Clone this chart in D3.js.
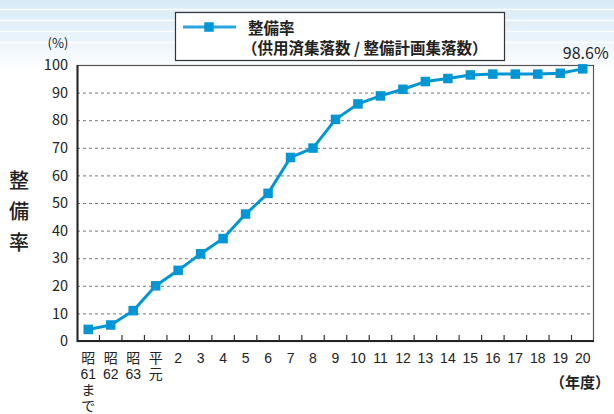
<!DOCTYPE html>
<html lang="ja">
<head>
<meta charset="utf-8">
<script src="https://cdn.jsdelivr.net/npm/d3@7"></script>
<style>
  html, body { margin: 0; padding: 0; background: #fff; }
  svg { display: block; font-family: "Noto Sans CJK JP", "Noto Sans", sans-serif; }
</style>
</head>
<body>
<svg id="chart" width="614" height="414"></svg>
<script>
// Fiscal years (each label split into stacked lines)
const categories = [
  ["昭", "61", "ま", "で"], ["昭", "62"], ["昭", "63"], ["平", "元"],
  ["2"], ["3"], ["4"], ["5"], ["6"], ["7"], ["8"], ["9"], ["10"],
  ["11"], ["12"], ["13"], ["14"], ["15"], ["16"], ["17"], ["18"], ["19"], ["20"]
];
// Completion rate (%)
const rates = [4.2, 5.8, 11.0, 20.0, 25.6, 31.6, 37.1, 46.0, 53.5, 66.5, 69.9,
               80.3, 85.9, 88.8, 91.2, 94.0, 95.1, 96.4, 96.7, 96.7, 96.7, 97.0, 98.6];
const yTicks = [0, 10, 20, 30, 40, 50, 60, 70, 80, 90, 100];
const seriesName = "整備率";
const seriesNote = "（供用済集落数 / 整備計画集落数）";
const lastLabel = "98.6%";

const svg = d3.select("#chart");
const W = 614, H = 414;
const plot = { left: 77, right: 594, top: 65, bottom: 341 };
const blue = "#0096d6";

// soft banded header background
const defs = svg.append("defs");
const grad = defs.append("linearGradient").attr("id", "hdr").attr("x1", 0).attr("y1", 0).attr("x2", 0).attr("y2", 1);
grad.append("stop").attr("offset", "0%").attr("stop-color", "#d6eaf7");
grad.append("stop").attr("offset", "55%").attr("stop-color", "#eaf4fb");
grad.append("stop").attr("offset", "100%").attr("stop-color", "#ffffff");
svg.append("rect").attr("x", 0).attr("y", 0).attr("width", W).attr("height", 72).attr("fill", "url(#hdr)");
[9.5, 20.5, 31.5, 42.5].forEach(y => {
  svg.append("line").attr("x1", 0).attr("x2", W).attr("y1", y).attr("y2", y)
    .attr("stroke", "#ffffff").attr("stroke-width", 1.6).attr("opacity", 0.9);
});

const idx = categories.map((d, i) => i);
const x = d3.scaleBand().domain(idx).range([plot.left, plot.right]).paddingInner(0).paddingOuter(0);
const y = d3.scaleLinear().domain([0, 100]).range([plot.bottom, plot.top]);

// white plot background
svg.append("rect").attr("x", plot.left).attr("y", plot.top)
  .attr("width", plot.right - plot.left).attr("height", plot.bottom - plot.top).attr("fill", "#fff");

// dotted gridlines
svg.append("g").selectAll("line").data(yTicks.filter(t => t > 0 && t < 100)).join("line")
  .attr("x1", plot.left).attr("x2", plot.right)
  .attr("y1", d => y(d) + 0.5).attr("y2", d => y(d) + 0.5)
  .attr("stroke", "#777").attr("stroke-width", 1).attr("stroke-dasharray", "3,3");

// frame
svg.append("rect").attr("x", plot.left + 0.5).attr("y", plot.top + 0.5)
  .attr("width", plot.right - plot.left - 1).attr("height", plot.bottom - plot.top)
  .attr("fill", "none").attr("stroke", "#555").attr("stroke-width", 1.2);
svg.append("line").attr("x1", plot.left + 0.5).attr("x2", plot.left + 0.5)
  .attr("y1", plot.top).attr("y2", plot.bottom + 1).attr("stroke", "#222").attr("stroke-width", 2);
svg.append("line").attr("x1", plot.left).attr("x2", plot.right)
  .attr("y1", plot.bottom).attr("y2", plot.bottom).attr("stroke", "#222").attr("stroke-width", 2);

// y axis labels
const yAxis = d3.axisLeft(y).tickValues(yTicks).tickSize(0).tickPadding(9);
const gy = svg.append("g").attr("transform", `translate(${plot.left},0)`).call(yAxis);
gy.select(".domain").remove();
gy.selectAll("text").attr("font-size", 14.5).attr("fill", "#222")
  .attr("font-family", "'Noto Sans CJK JP', sans-serif");

// x tick marks on band boundaries, pointing up into the plot
svg.append("g").selectAll("line").data(idx.slice(1)).join("line")
  .attr("x1", d => x(d)).attr("x2", d => x(d))
  .attr("y1", plot.bottom).attr("y2", plot.bottom - 6)
  .attr("stroke", "#333").attr("stroke-width", 1.2);

// x labels, one text element per stacked line
const rowY = [363, 379, 395, 410.5];
const xLabelRows = [];
categories.forEach((lines, i) => lines.forEach((t, k) => xLabelRows.push({ i, k, t })));
svg.append("g").selectAll("text").data(xLabelRows).join("text")
  .attr("x", d => x(d.i) + x.bandwidth() / 2)
  .attr("y", d => rowY[d.k])
  .attr("text-anchor", "middle")
  .attr("font-family", "'Liberation Sans', 'Noto Sans CJK JP', sans-serif")
  .attr("font-size", 14)
  .attr("fill", "#222")
  .text(d => d.t);

// axis titles
svg.append("text").attr("x", 58).attr("y", 48).attr("text-anchor", "middle")
  .attr("font-size", 13).attr("fill", "#222").text("(%)");
["整", "備", "率"].forEach((c, i) => {
  svg.append("text").attr("x", 19).attr("y", 188 + i * 31).attr("text-anchor", "middle")
    .attr("font-size", 20).attr("font-weight", 500).attr("fill", "#222").text(c);
});
svg.append("text").attr("x", 610).attr("y", 388).attr("text-anchor", "end")
  .attr("font-size", 15).attr("font-weight", "bold").attr("fill", "#222").text("（年度）");

// series line + markers
const line = d3.line().x((d, i) => x(i) + x.bandwidth() / 2).y(d => y(d));
svg.append("path").datum(rates).attr("d", line)
  .attr("fill", "none").attr("stroke", blue).attr("stroke-width", 3).attr("stroke-linejoin", "round");
const ms = 9.5;
svg.append("g").selectAll("rect").data(rates).join("rect")
  .attr("x", (d, i) => x(i) + x.bandwidth() / 2 - ms / 2)
  .attr("y", d => y(d) - ms / 2)
  .attr("width", ms).attr("height", ms).attr("fill", blue);

// end value label
svg.append("text")
  .attr("x", x(rates.length - 1) + x.bandwidth() / 2 + 3)
  .attr("y", 59).attr("text-anchor", "middle")
  .attr("font-size", 16).attr("fill", "#222").text(lastLabel);

// legend
const lg = svg.append("g");
lg.append("rect").attr("x", 175.5).attr("y", 12.5).attr("width", 329).attr("height", 48)
  .attr("fill", "#fff").attr("stroke", "#333").attr("stroke-width", 1.2);
lg.append("line").attr("x1", 183).attr("x2", 236).attr("y1", 27).attr("y2", 27)
  .attr("stroke", "#2aa6df").attr("stroke-width", 3);
lg.append("rect").attr("x", 209 - ms / 2).attr("y", 27 - ms / 2).attr("width", ms).attr("height", ms)
  .attr("fill", blue);
lg.append("text").attr("x", 248).attr("y", 34).attr("font-size", 15.5).attr("font-weight", "bold")
  .attr("fill", "#222").text(seriesName);
lg.append("text").attr("x", 242).attr("y", 54).attr("font-size", 15.5).attr("font-weight", "bold")
  .attr("fill", "#222").text(seriesNote);
</script>
</body>
</html>
